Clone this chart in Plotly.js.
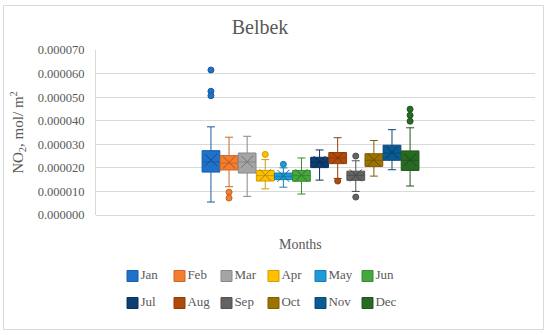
<!DOCTYPE html>
<html>
<head>
<meta charset="utf-8">
<script src="https://cdn.plot.ly/plotly-3.0.1.min.js"></script>
<style>html,body{margin:0;padding:0;background:#fff;}#chart{width:550px;height:335px;}</style>
</head>
<body>
<div id="chart"></div>
<script>
// ---- data (mol/m2) ----
var months = ["Jan","Feb","Mar","Apr","May","Jun","Jul","Aug","Sep","Oct","Nov","Dec"];
var lowerFence = [5.5e-6, 12.0e-6, 7.9e-6, 11.1e-6, 11.8e-6, 8.9e-6, 14.8e-6, 15.5e-6, 10.0e-6, 16.5e-6, 19.2e-6, 12.3e-6];
var q1Vals     = [18.2e-6, 19.1e-6, 17.8e-6, 14.4e-6, 15.0e-6, 14.3e-6, 20.1e-6, 21.8e-6, 14.7e-6, 20.6e-6, 23.2e-6, 18.9e-6];
var medianVals = [22.5e-6, 22.0e-6, 22.5e-6, 16.7e-6, 16.4e-6, 16.7e-6, 22.3e-6, 24.2e-6, 16.8e-6, 23.2e-6, 26.3e-6, 23.2e-6];
var q3Vals     = [27.3e-6, 25.2e-6, 26.3e-6, 18.9e-6, 17.8e-6, 18.9e-6, 24.5e-6, 26.5e-6, 18.6e-6, 26.0e-6, 29.6e-6, 27.2e-6];
var upperFence = [37.4e-6, 33.0e-6, 33.4e-6, 23.5e-6, 20.0e-6, 24.2e-6, 27.6e-6, 32.8e-6, 23.0e-6, 31.6e-6, 36.2e-6, 37.0e-6];
var meanVals   = [23.3e-6, 22.3e-6, 22.6e-6, 17.0e-6, 16.6e-6, 16.9e-6, 22.5e-6, 24.2e-6, 16.8e-6, 23.4e-6, 26.6e-6, 23.5e-6];
var outliers = [
  [61.5e-6, 52.5e-6, 50.6e-6],
  [9.7e-6, 7.2e-6],
  [],
  [25.7e-6],
  [21.5e-6],
  [],
  [],
  [14.4e-6],
  [25.0e-6, 7.6e-6],
  [],
  [],
  [44.9e-6, 42.3e-6, 39.8e-6]
];
var yTickVals = [0, 0.00001, 0.00002, 0.00003, 0.00004, 0.00005, 0.00006, 0.00007];

// ---- styles ----
var colors = ["#1f72c9","#f47d30","#a5a5a5","#ffc000","#1f9ad6","#44a83c",
              "#0e3d72","#b04a0c","#636363","#9c7200","#0a5a94","#276a22"];
function shade(hex, f){
  var r=parseInt(hex.substr(1,2),16), g=parseInt(hex.substr(3,2),16), b=parseInt(hex.substr(5,2),16);
  r=Math.round(r*f); g=Math.round(g*f); b=Math.round(b*f);
  return "rgb("+r+","+g+","+b+")";
}
var font = "Liberation Serif, Times New Roman, serif";
var textCol = "#595959";

var traces = [];
months.forEach(function(m, i){
  traces.push({
    type: "box", name: m, x: [i],
    q1: [q1Vals[i]], median: [medianVals[i]], q3: [q3Vals[i]],
    lowerfence: [lowerFence[i]], upperfence: [upperFence[i]],
    boxpoints: false, width: 0.98, whiskerwidth: 0.45,
    fillcolor: colors[i],
    line: {color: shade(colors[i], 0.82), width: 1},
    showlegend: false, hoverinfo: "skip"
  });
});
months.forEach(function(m, i){
  traces.push({
    type: "scatter", mode: "markers", x: [i], y: [meanVals[i]], showlegend: false,
    marker: {symbol: "x-thin-open", size: 12, line: {color: shade(colors[i], 0.7), width: 1}, color: shade(colors[i], 0.7)},
    hoverinfo: "skip"
  });
  if (outliers[i].length) {
    traces.push({
      type: "scatter", mode: "markers",
      x: outliers[i].map(function(){ return i; }), y: outliers[i], showlegend: false,
      marker: {symbol: "circle", size: 6, color: colors[i], line: {color: shade(colors[i], 0.8), width: 1}},
      hoverinfo: "skip"
    });
  }
});
// legend drawn as a small key grid: 6 columns x 2 rows
months.forEach(function(m, i){
  traces.push({
    type: "scatter", mode: "markers+text", xaxis: "x2", yaxis: "y2",
    x: [i % 6], y: [1 - Math.floor(i / 6)], text: [m], textposition: "middle right",
    textfont: {family: font, size: 13, color: textCol},
    marker: {symbol: "square", size: 11, color: colors[i], line: {color: shade(colors[i], 0.82), width: 1}},
    showlegend: false, hoverinfo: "skip", cliponaxis: false
  });
});

// pixel geometry
var W = 550, H = 335, L = 96, R = 15, T = 50, B = 20;
var plotBottom = 215;
var pw = W - L - R, ph = H - T - B;
function px2x(p){ return (p - L) / pw; }
function py2y(p){ return 1 - (p - T) / ph; }

var layout = {
  width: W, height: H,
  margin: {l: L, r: R, t: T, b: B, pad: 0},
  paper_bgcolor: "#ffffff", plot_bgcolor: "#ffffff",
  font: {family: font, color: textCol, size: 12},
  title: {text: "Belbek", font: {family: font, size: 20, color: textCol},
          x: 260 / W, xref: "container", xanchor: "center",
          y: 1 - 27 / H, yref: "container", yanchor: "middle"},
  showlegend: false,
  xaxis: {range: [-6.35, 17.9], showticklabels: false, showgrid: false, zeroline: false,
          showline: false, ticks: "", anchor: "y"},
  yaxis: {domain: [py2y(plotBottom), 1], anchor: "x",
          range: [0, 0.00007], tickvals: yTickVals, tickformat: ".6f",
          tickfont: {family: font, size: 12.5, color: textCol},
          showgrid: true, gridcolor: "#d9d9d9", gridwidth: 1,
          zeroline: true, zerolinecolor: "#d9d9d9", zerolinewidth: 1,
          showline: true, linecolor: "#d9d9d9", linewidth: 1,
          ticks: "", ticklabelstandoff: 8,
          title: {text: "NO<sub>2</sub>, mol/ m<sup>2</sup>", font: {family: font, size: 15, color: textCol}, standoff: 10}},
  xaxis2: {domain: [0, 1], anchor: "y2", range: [-0.777, 8.564],
           visible: false, showgrid: false, zeroline: false},
  yaxis2: {domain: [py2y(315), py2y(265)], anchor: "x2", range: [-0.444, 1.407],
           visible: false, showgrid: false, zeroline: false},
  annotations: [{text: "Months", xref: "paper", yref: "paper", x: px2x(300), y: py2y(244),
                 showarrow: false, xanchor: "center", yanchor: "middle",
                 font: {family: font, size: 14, color: textCol}}],
  shapes: [{type: "rect", xref: "paper", yref: "paper",
            x0: px2x(3.5), x1: px2x(543.5), y0: py2y(329.5), y1: py2y(5.5),
            line: {color: "#d9d9d9", width: 1}, fillcolor: "rgba(0,0,0,0)", layer: "below"}]
};

Plotly.newPlot("chart", traces, layout, {staticPlot: true, displayModeBar: false});
</script>
</body>
</html>
